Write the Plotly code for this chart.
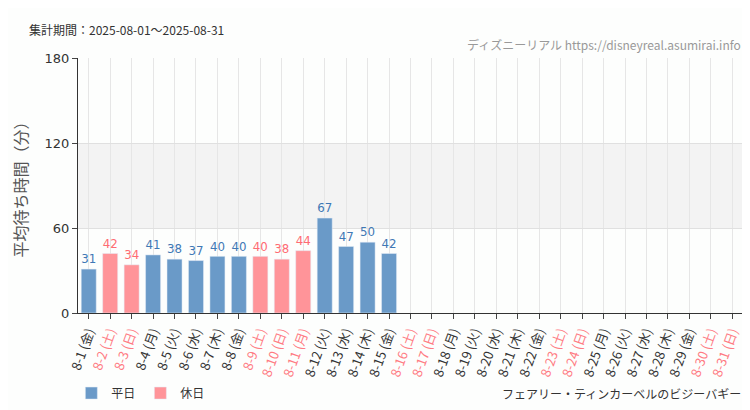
import plotly.graph_objects as go

days = [f"8-{d}" for d in range(1, 32)]
weekdays = ["金","土","日","月","火","水","木"]
dow = [weekdays[(d-1) % 7] for d in range(1, 32)]
holidays = [2,3,9,10,11,16,17,23,24,30,31]
values = [31,42,34,41,38,37,40,40,40,38,44,67,47,50,42] + [None]*16

BLUE = "#6a9ac8"
RED = "#ff9499"
cats = [f"{d} ({w})" for d, w in zip(days, dow)]
ticktext = []
for i, c in enumerate(cats):
    col = "#ff7b83" if (i+1) in holidays else "#333333"
    ticktext.append(f"<span style='color:{col}'>{c}</span>")

wk = [v if (i+1) not in holidays else None for i, v in enumerate(values)]
hd = [v if (i+1) in holidays else None for i, v in enumerate(values)]

NARROW = "Liberation Sans Narrow, DejaVu Sans Condensed"
fig = go.Figure()
fig.add_bar(x=cats, y=wk, name="平日", marker_color=BLUE,
            text=[str(v) if v is not None else "" for v in wk], textposition="outside",
            textfont=dict(color="#3f78b5", size=14, family=NARROW), cliponaxis=False)
fig.add_bar(x=cats, y=hd, name="休日", marker_color=RED,
            text=[str(v) if v is not None else "" for v in hd], textposition="outside",
            textfont=dict(color="#ff6b73", size=14, family=NARROW), cliponaxis=False)

fig.add_shape(type="rect", xref="paper", yref="y", x0=0, x1=1, y0=60, y1=120,
              fillcolor="#f3f3f3", line_width=0, layer="below")

fig.update_layout(
    width=750, height=410, barmode="overlay", bargap=0.3,
    paper_bgcolor="#fdfefd", plot_bgcolor="#fdfefd",
    margin=dict(l=70, r=15, t=50, b=105, autoexpand=False),
    font=dict(family="Noto Sans CJK JP", color="#333"),
    legend=dict(orientation="h", x=-0.01, y=-0.314, xanchor="left", yanchor="middle", font=dict(size=12)),
    annotations=[
        dict(text="集計期間：2025-08-01～2025-08-31", xref="paper", yref="paper", x=-0.077, y=1.07,
             xanchor="left", yanchor="bottom", showarrow=False, font=dict(size=12, color="#333")),
        dict(text="ディズニーリアル https://disneyreal.asumirai.info", xref="paper", yref="paper", x=1, y=1.01,
             xanchor="right", yanchor="bottom", showarrow=False,
             font=dict(size=12, color="#999", family="Liberation Sans Narrow, Noto Sans CJK JP")),
        dict(text="フェアリー・ティンカーベルのビジーバギー", xref="paper", yref="paper", x=1, y=-0.314,
             xanchor="right", yanchor="middle", showarrow=False, font=dict(size=12, color="#333")),
    ],
)
fig.update_xaxes(tickmode="array", tickvals=cats, ticktext=ticktext, tickangle=-70,
                 showgrid=True, gridcolor="#e6e6e6", ticks="outside", ticklen=5, automargin=False,
                 showline=True, linecolor="#333", tickfont=dict(size=13))
fig.update_yaxes(range=[0, 180], tickvals=[0, 60, 120, 180], showgrid=True, gridcolor="#e0e0e0",
                 showline=True, linecolor="#333", ticks="outside", ticklen=5, zeroline=False, automargin=False,
                 title=dict(text="平均待ち時間（分）", font=dict(size=16, color="#555")),
                 tickfont=dict(size=13, family="Liberation Sans Narrow, DejaVu Sans"))
fig.write_html("out.html")
